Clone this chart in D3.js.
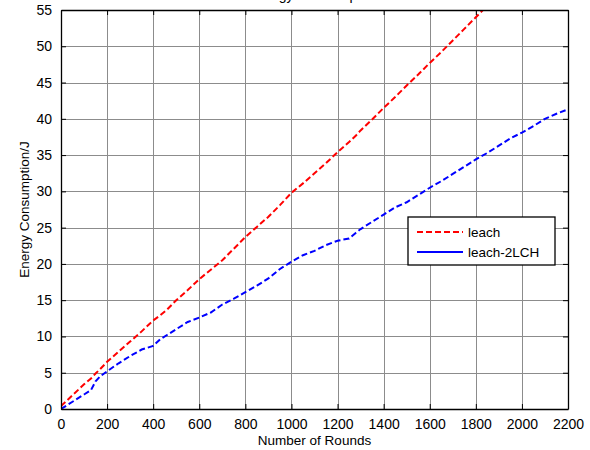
<!DOCTYPE html>
<html>
<head>
<meta charset="utf-8">
<script src="https://cdn.jsdelivr.net/npm/d3@7"></script>
<style>
  body { margin: 0; background: #fff; }
  svg { font-family: "Liberation Sans", Arial, sans-serif; }
</style>
</head>
<body>
<svg id="chart"></svg>
<script>
const rounds = [0, 50, 100, 130, 150, 170, 200, 250, 300, 350, 400, 430, 460, 500, 550, 600, 650, 700, 750, 800,
  850, 900, 950, 1000, 1050, 1100, 1150, 1200, 1250, 1280, 1300, 1350, 1400, 1450, 1500, 1550, 1600, 1650,
  1700, 1750, 1800, 1850, 1900, 1950, 2000, 2050, 2100, 2150, 2200];

const leach = [0.4, 1.9, 3.4, 4.2, 4.9, 5.5, 6.5, 7.9, 9.3, 10.7, 12.2, 12.9, 13.7, 15.0, 16.4, 17.9, 19.2, 20.5, 22.1, 23.7,
  25.1, 26.5, 28.1, 29.8, 31.1, 32.5, 33.9, 35.4, 36.8, 37.7, 38.4, 39.9, 41.5, 43.0, 44.6, 46.1, 47.7, 49.2,
  50.8, 52.4, 54.0, 55.6, 57.2, 58.8, 60.4, 62.0, 63.6, 65.2, 66.8];

const leach2LCH = [0, 1.0, 2.0, 2.6, 3.8, 4.5, 5.2, 6.3, 7.3, 8.2, 8.7, 9.6, 10.2, 11.0, 12.0, 12.6, 13.3, 14.4, 15.2, 16.1,
  17.0, 18.0, 19.3, 20.3, 21.2, 21.8, 22.6, 23.2, 23.5, 24.3, 24.8, 25.8, 26.8, 27.8, 28.5, 29.5, 30.5, 31.4,
  32.4, 33.4, 34.4, 35.3, 36.3, 37.3, 38.1, 39.0, 40.0, 40.7, 41.3];

const xTicks = d3.range(0, 2201, 200);
const yTicks = d3.range(0, 56, 5);
const seriesNames = ["leach", "leach-2LCH"];

const width = 590, height = 450;
const margin = {left: 61, right: 22, top: 10, bottom: 41};

const svg = d3.select("#chart").attr("width", width).attr("height", height);

const x = d3.scaleLinear().domain([0, 2200]).range([margin.left, width - margin.right]);
const y = d3.scaleLinear().domain([0, 55]).range([height - margin.bottom, margin.top]);

svg.append("rect").attr("width", width).attr("height", height).attr("fill", "#fff");

// grid
const grid = svg.append("g").attr("stroke", "#8c8c8c").attr("stroke-width", 1);
grid.selectAll(".gx").data(xTicks.slice(1, -1)).enter().append("line")
  .attr("x1", d => Math.round(x(d)) + 0.5).attr("x2", d => Math.round(x(d)) + 0.5)
  .attr("y1", y(0)).attr("y2", y(55));
grid.selectAll(".gy").data(yTicks.slice(1, -1)).enter().append("line")
  .attr("y1", d => Math.round(y(d)) + 0.5).attr("y2", d => Math.round(y(d)) + 0.5)
  .attr("x1", x(0)).attr("x2", x(2200));

// lines
const clip = svg.append("clipPath").attr("id", "clip").append("rect")
  .attr("x", x(0)).attr("y", y(55)).attr("width", x(2200) - x(0)).attr("height", y(0) - y(55));

const line = d3.line().x((d, i) => x(rounds[i])).y(d => y(d));

svg.append("path").datum(leach)
  .attr("clip-path", "url(#clip)")
  .attr("d", line).attr("fill", "none").attr("stroke", "#ff0000")
  .attr("stroke-width", 2).attr("stroke-dasharray", "6,3");

svg.append("path").datum(leach2LCH)
  .attr("clip-path", "url(#clip)")
  .attr("d", line).attr("fill", "none").attr("stroke", "#0000ff")
  .attr("stroke-width", 2).attr("stroke-dasharray", "6,3");

// axes (inward ticks, box)
const xAxis = svg.append("g").attr("transform", `translate(0,${y(0)})`)
  .call(d3.axisBottom(x).tickValues(xTicks).tickFormat(d3.format("d")).tickSizeInner(-5).tickSizeOuter(0).tickPadding(10));
const yAxis = svg.append("g").attr("transform", `translate(${x(0)},0)`)
  .call(d3.axisLeft(y).tickValues(yTicks).tickFormat(d3.format("d")).tickSizeInner(-5).tickSizeOuter(0).tickPadding(9));
const xTop = svg.append("g").attr("transform", `translate(0,${y(55)})`)
  .call(d3.axisTop(x).tickValues(xTicks).tickSizeInner(-5).tickSizeOuter(0).tickFormat(""));
const yRight = svg.append("g").attr("transform", `translate(${x(2200)},0)`)
  .call(d3.axisRight(y).tickValues(yTicks).tickSizeInner(-5).tickSizeOuter(0).tickFormat(""));

[xAxis, yAxis, xTop, yRight].forEach(g => {
  g.selectAll("path.domain").attr("stroke", "#000").attr("stroke-width", 1.3);
  g.selectAll(".tick line").attr("stroke", "#000");
  g.selectAll("text").attr("font-size", 14).attr("fill", "#000")
    .attr("font-family", "'Liberation Sans', Arial, sans-serif");
});

// labels
svg.append("text").attr("x", (x(0) + x(2200)) / 2).attr("y", 445)
  .attr("text-anchor", "middle").attr("font-size", 13.5).text("Number of Rounds");
svg.append("text").attr("transform", `translate(29,${(y(0) + y(55)) / 2}) rotate(-90)`)
  .attr("text-anchor", "middle").attr("font-size", 13.5).text("Energy Consumption/J");
// title sits above the plot and is mostly cut off, as in the original figure
svg.append("text").attr("x", (x(0) + x(2200)) / 2).attr("y", 0)
  .attr("text-anchor", "middle").attr("font-size", 14).text("Energy Consumption");

// legend
const lg = svg.append("g").attr("transform", "translate(408,217)");
lg.append("rect").attr("width", 147).attr("height", 48).attr("fill", "#fff")
  .attr("stroke", "#000").attr("stroke-width", 1.3);
const colors = ["#ff0000", "#0000ff"];
const dashes = ["6,3", null];
seriesNames.forEach((name, i) => {
  const yy = 15 + i * 20;
  lg.append("line").attr("x1", 9).attr("x2", 55).attr("y1", yy).attr("y2", yy)
    .attr("stroke", colors[i]).attr("stroke-width", 2).attr("stroke-dasharray", dashes[i]);
  lg.append("text").attr("x", 60).attr("y", yy + 5).attr("font-size", 13.5).text(name);
});
</script>
</body>
</html>
